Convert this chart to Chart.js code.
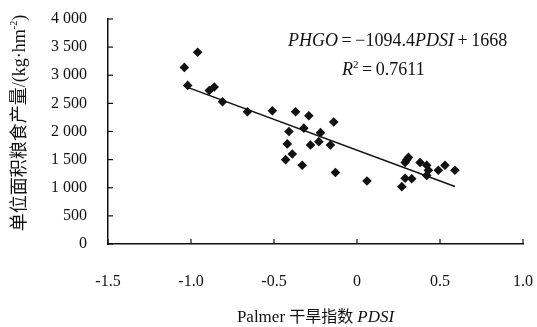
<!DOCTYPE html>
<html>
<head>
<meta charset="utf-8">
<script src="https://cdn.jsdelivr.net/npm/chart.js@4/dist/chart.umd.min.js"></script>
<style>
  body { margin: 0; background: #fff; }
</style>
</head>
<body>
<canvas id="scatterChart" width="537" height="327"></canvas>
<script>
// values
const pdsi = [-1.04, -0.96, -1.02, -0.89, -0.86, -0.81, -0.66, -0.51, -0.37, -0.41,
  -0.42, -0.39, -0.43, -0.29, -0.32, -0.14, -0.22, -0.23, -0.16, -0.28,
  -0.33, -0.13, 0.06, 0.29, 0.30, 0.31, 0.38, 0.42, 0.43, 0.42,
  0.29, 0.33, 0.27, 0.49, 0.53, 0.59];
const grainYield = [3140, 3410, 2820, 2730, 2790, 2530, 2350, 2370, 2350, 2000,
  1780, 1600, 1500, 2280, 2060, 2170, 1980, 1820, 1760, 1760,
  1400, 1270, 1120, 1450, 1500, 1540, 1450, 1400, 1310, 1220,
  1170, 1160, 1020, 1310, 1400, 1310];
const trendX = [-1.02, 0.59];
const trendY = [2784, 1022];
const xTicks = ['-1.5', '-1.0', '-0.5', '0', '0.5', '1.0'];
const yTicks = ['0', '500', '1 000', '1 500', '2 000', '2 500', '3 000', '3 500', '4 000'];

const serif = '"Liberation Serif", "Noto Sans CJK SC", serif';
const ink = '#111';

const points = pdsi.map((x, i) => ({ x: x, y: grainYield[i] }));
const trend = trendX.map((x, i) => ({ x: x, y: trendY[i] }));

// small inward tick marks, like the original
const innerTicks = {
  id: 'innerTicks',
  afterDraw(chart) {
    const { ctx, chartArea, scales } = chart;
    ctx.save();
    ctx.strokeStyle = ink;
    ctx.lineWidth = 1.2;
    scales.x.ticks.forEach((t, i) => {
      const px = scales.x.getPixelForTick(i);
      ctx.beginPath();
      ctx.moveTo(px, chartArea.bottom);
      ctx.lineTo(px, chartArea.bottom - 5);
      ctx.stroke();
    });
    scales.y.ticks.forEach((t, i) => {
      const py = scales.y.getPixelForTick(i);
      ctx.beginPath();
      ctx.moveTo(chartArea.left, py);
      ctx.lineTo(chartArea.left + 5, py);
      ctx.stroke();
    });
    ctx.restore();
  }
};

// draws a run of [text, italic, size, raise] pieces
function drawRun(ctx, parts, x, y, align) {
  let total = 0;
  parts.forEach(p => {
    ctx.font = (p[1] ? 'italic ' : '') + p[2] + 'px ' + serif;
    total += ctx.measureText(p[0]).width;
  });
  let cx = align === 'center' ? x - total / 2 : x;
  parts.forEach(p => {
    ctx.font = (p[1] ? 'italic ' : '') + p[2] + 'px ' + serif;
    ctx.fillText(p[0], cx, y - (p[3] || 0));
    cx += ctx.measureText(p[0]).width;
  });
}

const labelsPlugin = {
  id: 'labelsPlugin',
  afterDraw(chart) {
    const { ctx, chartArea } = chart;
    ctx.save();
    ctx.fillStyle = ink;
    ctx.textBaseline = 'middle';
    ctx.textAlign = 'left';

    // regression equation
    drawRun(ctx, [
      ['PHGO', true, 18], ['\u2009=\u2009\u22121094.4', false, 18], ['PDSI', true, 18], ['\u2009+\u20091668', false, 18]
    ], 288, 41, 'left');
    drawRun(ctx, [
      ['R', true, 18], ['2', false, 11, 5], ['\u2009=\u20090.7611', false, 18]
    ], 342, 70, 'left');

    // x title
    drawRun(ctx, [
      ['Palmer ', false, 17], ['干旱指数 ', false, 16], ['PDSI', true, 17]
    ], (chartArea.left + chartArea.right) / 2, 318, 'center');

    // y title, rotated
    ctx.translate(20, 123);
    ctx.rotate(-Math.PI / 2);
    drawRun(ctx, [
      ['单位面积粮食产量', false, 18], ['/(kg\u00b7hm', false, 18], ['-2', false, 10, 6], [')', false, 18]
    ], 0, 0, 'center');
    ctx.restore();
  }
};

new Chart(document.getElementById('scatterChart'), {
  type: 'scatter',
  data: {
    datasets: [
      {
        data: points,
        pointStyle: 'rectRot',
        pointRadius: 4.8,
        backgroundColor: ink,
        borderColor: ink,
        borderWidth: 0
      },
      {
        type: 'line',
        data: trend,
        borderColor: ink,
        borderWidth: 1.5,
        pointRadius: 0,
        fill: false
      }
    ]
  },
  options: {
    responsive: false,
    animation: false,
    layout: { padding: { top: 19, right: 14, left: 0, bottom: 0 } },
    plugins: { legend: { display: false }, tooltip: { enabled: false } },
    scales: {
      x: {
        type: 'linear',
        min: -1.5,
        max: 1.0,
        grid: { display: false },
        border: { color: ink, width: 1.5 },
        ticks: {
          stepSize: 0.5,
          padding: 20,
          color: ink,
          font: { family: serif, size: 16 },
          callback: (v, i) => xTicks[i]
        },
        afterFit: s => { s.height = 83; s.paddingLeft = 0; s.paddingRight = 0; }
      },
      y: {
        min: 0,
        max: 4000,
        grid: { display: false },
        border: { color: ink, width: 1.5 },
        ticks: {
          stepSize: 500,
          padding: 13,
          color: ink,
          font: { family: serif, size: 16 },
          callback: (v, i) => yTicks[i]
        },
        afterFit: s => { s.width = 108; s.paddingTop = 0; s.paddingBottom = 0; }
      }
    }
  },
  plugins: [innerTicks, labelsPlugin]
});
</script>
</body>
</html>
